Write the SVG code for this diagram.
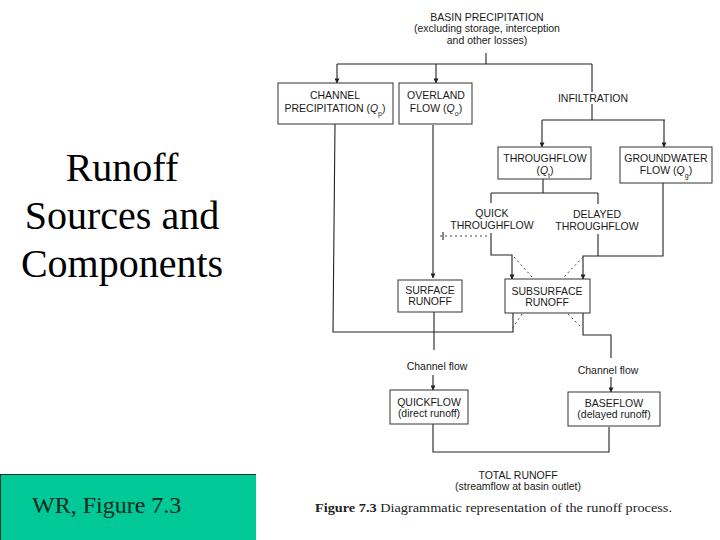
<svg xmlns="http://www.w3.org/2000/svg" width="720" height="540" viewBox="0 0 720 540">
<defs>
<marker id="ah" viewBox="0 0 6 6" refX="5.5" refY="3" markerWidth="5" markerHeight="5" orient="auto" markerUnits="userSpaceOnUse">
<path d="M0,0 L6,3 L0,6 z" fill="#222"/>
</marker>
<style>
.t{font-family:"Liberation Sans",Arial,sans-serif;font-size:10.5px;fill:#1a1a1a;text-anchor:middle}
.box{fill:#fff;stroke:#333;stroke-width:1}
.ln{fill:none;stroke:#222;stroke-width:1.1}
.dot{fill:none;stroke:#444;stroke-width:1;stroke-dasharray:2,3}
.big{font-family:"Liberation Serif","Times New Roman",serif;font-size:40px;fill:#000;text-anchor:middle}
.q{font-style:italic}
.sub{font-size:7px;baseline-shift:sub}
.bg{fill:#fff}
</style>
</defs>
<rect width="720" height="540" fill="#fff"/>

<g id="title">
<text class="big" x="122" y="181">Runoff</text>
<text class="big" x="122" y="229">Sources and</text>
<text class="big" x="122" y="277">Components</text>
</g>

<g id="source-label">
<rect x="0" y="474" width="256" height="66" fill="#00C896"/>
<line x1="0" y1="474.5" x2="256" y2="474.5" stroke="#0a3a2a" stroke-width="1"/>
<line x1="0.5" y1="474" x2="0.5" y2="540" stroke="#0a3a2a" stroke-width="1"/>
<text x="32" y="513" font-family="'Liberation Serif','Times New Roman',serif" font-size="24" fill="#0a2a20">WR, Figure 7.3</text>
</g>

<g id="connectors">
<path class="ln" d="M486,53 V64"/>
<path class="ln" d="M337,64 H592"/>
<path class="ln" d="M337,64 V83" marker-end="url(#ah)"/>
<path class="ln" d="M436,64 V83" marker-end="url(#ah)"/>
<path class="ln" d="M592,64 V120"/>
<path class="ln" d="M542,120 H665"/>
<path class="ln" d="M542,120 V147" marker-end="url(#ah)"/>
<path class="ln" d="M664,120 V147" marker-end="url(#ah)"/>
<path class="ln" d="M335,124 L333,332 H513 V313"/>
<path class="ln" d="M433,125 V278" marker-end="url(#ah)"/>
<path class="ln" d="M543,179 V193"/>
<path class="ln" d="M491,193 H598"/>
<path class="ln" d="M491,193 V255 H512 V279" marker-end="url(#ah)"/>
<path class="ln" d="M598,193 V256"/>
<path class="ln" d="M663,183 V256 H583 V279" marker-end="url(#ah)"/>
<path class="dot" d="M440,236 H489"/>
<path class="ln" d="M443,232 V240"/>
<path class="dot" d="M514,257 L533,278"/>
<path class="dot" d="M583,257 L563,278"/>
<path class="dot" d="M522,314 L512,329"/>
<path class="dot" d="M568,314 L580,326"/>
<path class="ln" d="M434,312 V350"/>
<path class="ln" d="M583,313 V335 H611 V358"/>
<path class="ln" d="M433,375 V390" marker-end="url(#ah)"/>
<path class="ln" d="M611,377 V392" marker-end="url(#ah)"/>
<path class="ln" d="M433,424 V452 H609 V427"/>
</g>

<g id="basin">
<text class="t" x="487" y="21">BASIN PRECIPITATION</text>
<text class="t" x="487" y="32">(excluding storage, interception</text>
<text class="t" x="487" y="44">and other losses)</text>
</g>

<g id="channel-precip">
<rect class="box" x="278" y="83" width="115" height="41"/>
<text class="t" x="335" y="99">CHANNEL</text>
<text class="t" x="335" y="112">PRECIPITATION (<tspan class="q">Q</tspan><tspan class="sub">p</tspan>)</text>
</g>

<g id="overland">
<rect class="box" x="399" y="83" width="73" height="41"/>
<text class="t" x="436" y="99">OVERLAND</text>
<text class="t" x="436" y="112">FLOW (<tspan class="q">Q</tspan><tspan class="sub">o</tspan>)</text>
</g>

<g id="infiltration">
<rect class="bg" x="555" y="92" width="76" height="12"/>
<text class="t" x="593" y="102">INFILTRATION</text>
</g>

<g id="throughflow">
<rect class="box" x="498" y="147" width="93" height="32"/>
<text class="t" x="545" y="162">THROUGHFLOW</text>
<text class="t" x="545" y="174">(<tspan class="q">Q</tspan><tspan class="sub">t</tspan>)</text>
</g>

<g id="groundwater">
<rect class="box" x="620" y="147" width="92" height="36"/>
<text class="t" x="666" y="162">GROUNDWATER</text>
<text class="t" x="666" y="174">FLOW (<tspan class="q">Q</tspan><tspan class="sub">g</tspan>)</text>
</g>

<g id="quick-throughflow">
<rect class="bg" x="448" y="203" width="88" height="30"/>
<text class="t" x="492" y="217">QUICK</text>
<text class="t" x="492" y="229">THROUGHFLOW</text>
</g>

<g id="delayed-throughflow">
<rect class="bg" x="553" y="204" width="88" height="30"/>
<text class="t" x="597" y="218">DELAYED</text>
<text class="t" x="597" y="230">THROUGHFLOW</text>
</g>

<g id="surface-runoff">
<rect class="box" x="398" y="280" width="64" height="32"/>
<text class="t" x="430" y="294">SURFACE</text>
<text class="t" x="430" y="305">RUNOFF</text>
</g>

<g id="subsurface-runoff">
<rect class="box" x="505" y="279" width="85" height="34"/>
<text class="t" x="547" y="295">SUBSURFACE</text>
<text class="t" x="547" y="306">RUNOFF</text>
</g>

<g id="channel-flow-left">
<text class="t" x="437" y="370">Channel flow</text>
</g>

<g id="channel-flow-right">
<text class="t" x="608" y="374">Channel flow</text>
</g>

<g id="quickflow">
<rect class="box" x="390" y="390" width="78" height="34"/>
<text class="t" x="429" y="406">QUICKFLOW</text>
<text class="t" x="429" y="417">(direct runoff)</text>
</g>

<g id="baseflow">
<rect class="box" x="568" y="392" width="92" height="34"/>
<text class="t" x="614" y="407">BASEFLOW</text>
<text class="t" x="614" y="418">(delayed runoff)</text>
</g>

<g id="total-runoff">
<text class="t" x="518" y="479">TOTAL RUNOFF</text>
<text class="t" x="518" y="490">(streamflow at basin outlet)</text>
</g>

<g id="caption">
<text x="315" y="512" font-family="'Liberation Serif','Times New Roman',serif" font-size="13" fill="#222" textLength="357" lengthAdjust="spacingAndGlyphs"><tspan font-weight="bold">Figure 7.3</tspan>  Diagrammatic representation of the runoff process.</text>
</g>
</svg>
